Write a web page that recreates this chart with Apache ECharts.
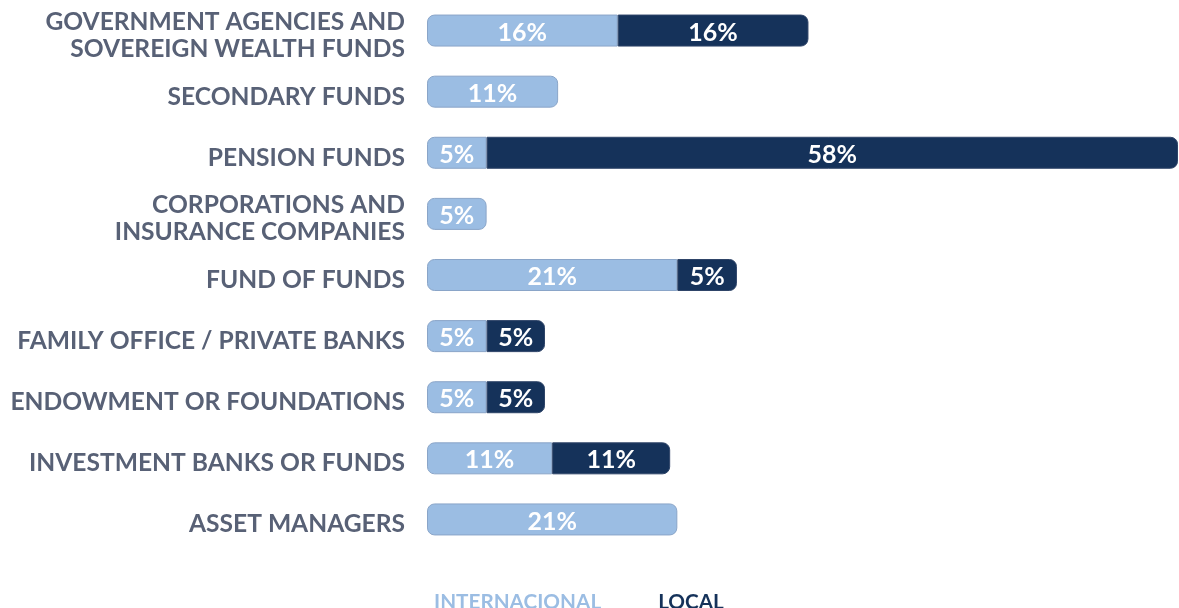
<!DOCTYPE html>
<html><head><meta charset="utf-8">
<script src="https://cdn.jsdelivr.net/npm/echarts@6/dist/echarts.min.js"></script>
<style>html,body{margin:0;padding:0;background:#fff}#c{width:1179px;height:608px}</style>
</head><body><div id="c"></div>
<script>
const categories = ['GOVERNMENT AGENCIES AND\nSOVEREIGN WEALTH FUNDS','SECONDARY FUNDS','PENSION FUNDS','CORPORATIONS AND\nINSURANCE COMPANIES','FUND OF FUNDS','FAMILY OFFICE / PRIVATE BANKS','ENDOWMENT OR FOUNDATIONS','INVESTMENT BANKS OR FUNDS','ASSET MANAGERS'];
const internationalValues = [16, 11, 5, 5, 21, 5, 5, 10.5, 21];
const localValues = [16, null, 58, null, 5, 4.9, 4.9, 9.9, null];
const internationalLabels = ['16%','11%','5%','5%','21%','5%','5%','11%','21%'];
const localLabels = ['16%','','58%','','5%','5%','5%','11%',''];
const seriesNames = ['INTERNACIONAL','LOCAL'];

const LIGHT = '#9bbde3', DARK = '#15325a';
const FONT = 'Lato';
const R = 7;
const intlData = internationalValues.map((v,i)=>({
  value: v,
  itemStyle: { borderRadius: localValues[i] ? [R,0,0,R] : R }
}));
const localData = localValues.map(v=>({ value: v, itemStyle:{ borderRadius:[0,R,R,0] } }));

const chart = echarts.init(document.getElementById('c'));
chart.setOption({
  animation:false,
  grid:{left:427,right:1,top:0,bottom:58,containLabel:false},
  legend:{
    bottom:-10, left:423, itemWidth:0, itemHeight:0, itemGap:51, icon:'rect',
    textStyle:{fontFamily:FONT,fontWeight:'bold',fontSize:20.7},
    data:[{name:seriesNames[0],textStyle:{color:LIGHT}},{name:seriesNames[1],textStyle:{color:DARK}}]
  },
  xAxis:{type:'value',min:0,max:63,show:false},
  yAxis:{type:'category',data:categories,inverse:true,
    axisLine:{show:false},axisTick:{show:false},splitLine:{show:false},
    axisLabel:{margin:22,align:'right',
      formatter:v=>'{s| }\n' + v.split('\n').map(l=>'{a|'+l+'}').join('\n'),
      rich:{
        s:{fontSize:1,lineHeight:10},
        a:{color:'#586176',fontFamily:FONT,fontWeight:'bold',fontSize:24.6,lineHeight:27}
      }
    }
  },
  series:[
    {name:seriesNames[0],type:'bar',stack:'a',barWidth:32,data:intlData,
     itemStyle:{color:LIGHT,borderColor:'#8aa5c8',borderWidth:1},
     label:{show:true,position:'inside',offset:[0,2],color:'#fff',fontFamily:FONT,fontWeight:'bold',fontSize:25,
       formatter:p=>internationalLabels[p.dataIndex]}},
    {name:seriesNames[1],type:'bar',stack:'a',barWidth:32,data:localData,
     itemStyle:{color:DARK,borderColor:'#2e4468',borderWidth:1},
     label:{show:true,position:'inside',offset:[0,2],color:'#fff',fontFamily:FONT,fontWeight:'bold',fontSize:25,
       formatter:p=>localLabels[p.dataIndex]}}
  ]
});
</script></body></html>
